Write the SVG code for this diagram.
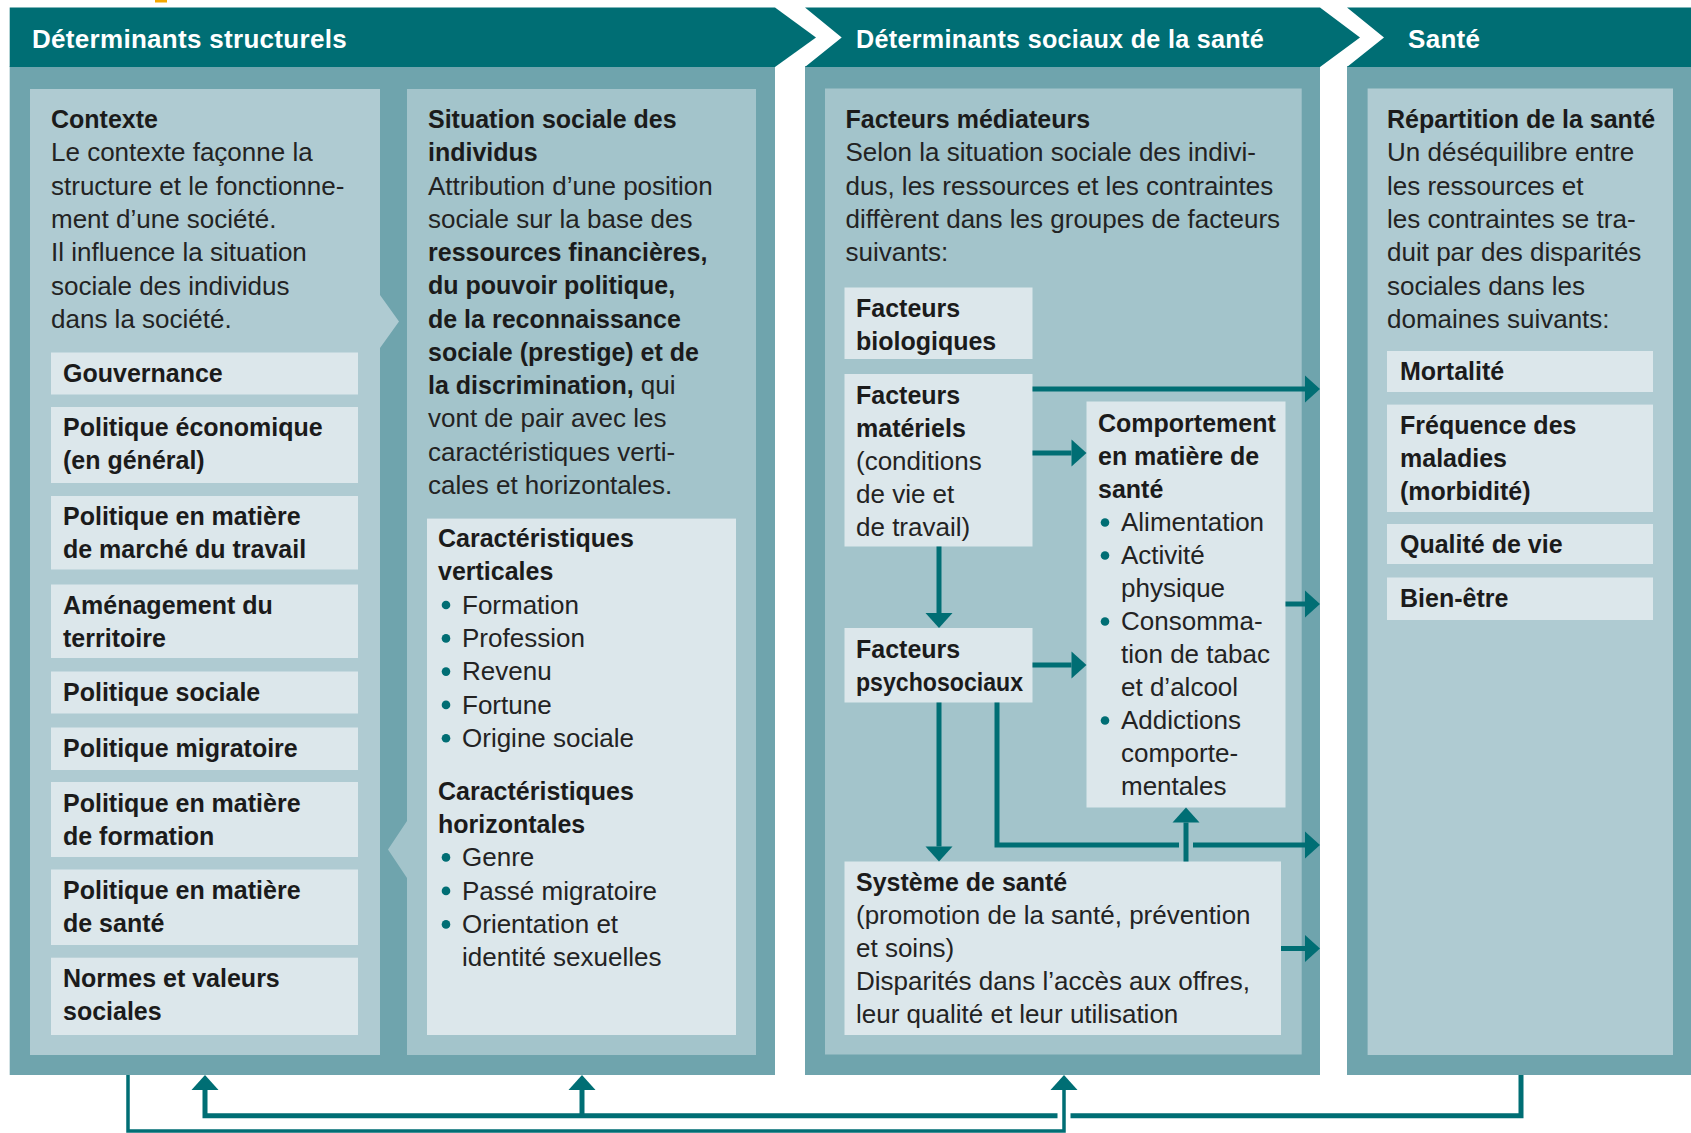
<svg xmlns="http://www.w3.org/2000/svg" width="1691" height="1133" viewBox="0 0 1691 1133">
<defs>
<style>
text{font-family:"Liberation Sans",Arial,sans-serif;fill:#232323}
.hd{font-size:26px;font-weight:bold;fill:#ffffff;letter-spacing:0.3px}
.b{font-size:25px;font-weight:bold;fill:#1b1b1b}
.r{font-size:26px}
.hdr{fill:#006e74}
.body{fill:#6fa4ad}
.pl{fill:#afcbd2}
.pm{fill:#a3c4cb}
.box{fill:#dce7eb}
.dot{fill:#006e74}
.ln{fill:none;stroke:#006e74;stroke-width:5}
.ln2{fill:none;stroke:#006e74;stroke-width:3.5}
</style>
<marker id="ah" markerUnits="userSpaceOnUse" markerWidth="16" markerHeight="27" refX="0" refY="13.5" orient="auto" overflow="visible">
<path d="M0,0 L15,13.5 L0,27 Z" fill="#006e74"/>
</marker>
</defs>
<rect x="0" y="0" width="1691" height="1133" fill="#ffffff"/>
<rect x="155" y="0" width="12" height="2.5" fill="#f5a800"/>

<!-- Section 1 -->
<g id="section-structurels">
<rect class="body" x="9.7" y="66" width="765.3" height="1009"/>
<polygon class="hdr" points="9.7,7.5 775,7.5 816,37.5 775,67 9.7,67"/>
<text class="hd" x="32" y="48">Déterminants structurels</text>
</g>

<g id="node-contexte">
<polygon class="pl" points="30,89 380,89 380,295 399,321.5 380,348 380,1055 30,1055"/>
<text class="b" x="51" y="128">Contexte</text>
<text class="r" x="51" y="161.3">Le contexte façonne la</text>
<text class="r" x="51" y="194.6">structure et le fonctionne-</text>
<text class="r" x="51" y="228">ment d’une société.</text>
<text class="r" x="51" y="261.2">Il influence la situation</text>
<text class="r" x="51" y="294.5">sociale des individus</text>
<text class="r" x="51" y="327.8">dans la société.</text>
</g>
<g id="node-gouvernance"><rect class="box" x="51" y="352.5" width="307" height="42"/><text class="b" x="63" y="382">Gouvernance</text></g>
<g id="node-pol-eco"><rect class="box" x="51" y="407" width="307" height="76"/><text class="b" x="63" y="436">Politique économique</text><text class="b" x="63" y="469">(en général)</text></g>
<g id="node-pol-travail"><rect class="box" x="51" y="496" width="307" height="73.5"/><text class="b" x="63" y="525">Politique en matière</text><text class="b" x="63" y="558">de marché du travail</text></g>
<g id="node-amenagement"><rect class="box" x="51" y="584.5" width="307" height="73.5"/><text class="b" x="63" y="614">Aménagement du</text><text class="b" x="63" y="647">territoire</text></g>
<g id="node-pol-sociale"><rect class="box" x="51" y="671.5" width="307" height="42"/><text class="b" x="63" y="701">Politique sociale</text></g>
<g id="node-pol-migratoire"><rect class="box" x="51" y="727.5" width="307" height="42.5"/><text class="b" x="63" y="757">Politique migratoire</text></g>
<g id="node-pol-formation"><rect class="box" x="51" y="782" width="307" height="75"/><text class="b" x="63" y="811.5">Politique en matière</text><text class="b" x="63" y="844.5">de formation</text></g>
<g id="node-pol-sante"><rect class="box" x="51" y="869.5" width="307" height="75.5"/><text class="b" x="63" y="899">Politique en matière</text><text class="b" x="63" y="932">de santé</text></g>
<g id="node-normes"><rect class="box" x="51" y="957.7" width="307" height="77.3"/><text class="b" x="63" y="987">Normes et valeurs</text><text class="b" x="63" y="1020">sociales</text></g>

<g id="node-situation">
<polygon class="pm" points="407,89 756,89 756,1055 407,1055 407,878 388,849.5 407,821"/>
<text class="b" x="428" y="128">Situation sociale des</text>
<text class="b" x="428" y="161.3">individus</text>
<text class="r" x="428" y="194.5">Attribution d’une position</text>
<text class="r" x="428" y="227.8">sociale sur la base des</text>
<text class="b" x="428" y="261.1">ressources financières,</text>
<text class="b" x="428" y="294.4">du pouvoir politique,</text>
<text class="b" x="428" y="327.6">de la reconnaissance</text>
<text class="b" x="428" y="360.9">sociale (prestige) et de</text>
<text x="428" y="394.2"><tspan class="b">la discrimination,</tspan><tspan class="r"> qui</tspan></text>
<text class="r" x="428" y="427.4">vont de pair avec les</text>
<text class="r" x="428" y="460.7">caractéristiques verti-</text>
<text class="r" x="428" y="494">cales et horizontales.</text>
</g>
<g id="node-caracteristiques">
<rect class="box" x="427" y="518.6" width="309" height="516.4"/>
<text class="b" x="438" y="547">Caractéristiques</text>
<text class="b" x="438" y="580.3">verticales</text>
<circle class="dot" cx="446" cy="605" r="4.3"/><text class="r" x="462" y="613.6">Formation</text>
<circle class="dot" cx="446" cy="638.4" r="4.3"/><text class="r" x="462" y="647">Profession</text>
<circle class="dot" cx="446" cy="671.6" r="4.3"/><text class="r" x="462" y="680.2">Revenu</text>
<circle class="dot" cx="446" cy="704.9" r="4.3"/><text class="r" x="462" y="713.5">Fortune</text>
<circle class="dot" cx="446" cy="738.2" r="4.3"/><text class="r" x="462" y="746.8">Origine sociale</text>
<text class="b" x="438" y="800">Caractéristiques</text>
<text class="b" x="438" y="833">horizontales</text>
<circle class="dot" cx="446" cy="857.4" r="4.3"/><text class="r" x="462" y="866">Genre</text>
<circle class="dot" cx="446" cy="890.9" r="4.3"/><text class="r" x="462" y="899.5">Passé migratoire</text>
<circle class="dot" cx="446" cy="924.4" r="4.3"/><text class="r" x="462" y="933">Orientation et</text>
<text class="r" x="462" y="966">identité sexuelles</text>
</g>

<!-- Section 2 -->
<g id="section-sociaux">
<rect class="body" x="805" y="66" width="515" height="1009"/>
<polygon class="hdr" points="805,7.5 1320,7.5 1360,37.5 1320,67 805,67 841.7,37.5"/>
<text class="hd" x="856" y="48" textLength="408" lengthAdjust="spacingAndGlyphs">Déterminants sociaux de la santé</text>
</g>
<g id="node-mediateurs">
<rect class="pm" x="825" y="88.5" width="476.7" height="966"/>
<text class="b" x="845.5" y="128">Facteurs médiateurs</text>
<text class="r" x="845.5" y="161.3">Selon la situation sociale des indivi-</text>
<text class="r" x="845.5" y="194.6">dus, les ressources et les contraintes</text>
<text class="r" x="845.5" y="228">diffèrent dans les groupes de facteurs</text>
<text class="r" x="845.5" y="261.2">suivants:</text>
</g>
<g id="node-biologiques"><rect class="box" x="844.5" y="287.5" width="188" height="71.5"/><text class="b" x="856" y="317">Facteurs</text><text class="b" x="856" y="350">biologiques</text></g>
<g id="node-materiels"><rect class="box" x="844.5" y="374" width="188" height="172.5"/>
<text class="b" x="856" y="404">Facteurs</text><text class="b" x="856" y="437">matériels</text>
<text class="r" x="856" y="470">(conditions</text><text class="r" x="856" y="503">de vie et</text><text class="r" x="856" y="536">de travail)</text></g>
<g id="node-psychosociaux"><rect class="box" x="844.5" y="628" width="188" height="74.5"/><text class="b" x="856" y="658">Facteurs</text><text class="b" x="856" y="691" textLength="167" lengthAdjust="spacingAndGlyphs">psychosociaux</text></g>
<g id="node-comportement"><rect class="box" x="1086.5" y="401.5" width="199" height="406"/>
<text class="b" x="1098" y="432">Comportement</text>
<text class="b" x="1098" y="465">en matière de</text>
<text class="b" x="1098" y="498">santé</text>
<circle class="dot" cx="1105" cy="522.5" r="4.3"/><text class="r" x="1121" y="531">Alimentation</text>
<circle class="dot" cx="1105" cy="555.5" r="4.3"/><text class="r" x="1121" y="564">Activité</text>
<text class="r" x="1121" y="597">physique</text>
<circle class="dot" cx="1105" cy="621.5" r="4.3"/><text class="r" x="1121" y="630">Consomma-</text>
<text class="r" x="1121" y="663">tion de tabac</text>
<text class="r" x="1121" y="696">et d’alcool</text>
<circle class="dot" cx="1105" cy="720.5" r="4.3"/><text class="r" x="1121" y="729">Addictions</text>
<text class="r" x="1121" y="762">comporte-</text>
<text class="r" x="1121" y="795">mentales</text></g>
<g id="node-systeme"><rect class="box" x="844.5" y="861.5" width="436.5" height="173.5"/>
<text class="b" x="856" y="891">Système de santé</text>
<text class="r" x="856" y="924">(promotion de la santé, prévention</text>
<text class="r" x="856" y="957">et soins)</text>
<text class="r" x="856" y="990">Disparités dans l’accès aux offres,</text>
<text class="r" x="856" y="1023">leur qualité et leur utilisation</text></g>

<!-- Section 3 -->
<g id="section-sante">
<rect class="body" x="1347" y="66" width="344" height="1009"/>
<polygon class="hdr" points="1347,7.5 1691,7.5 1691,67 1347,67 1384,37.5"/>
<text class="hd" x="1408" y="48">Santé</text>
</g>
<g id="node-repartition">
<rect class="pl" x="1367.6" y="88.5" width="305.4" height="966.5"/>
<text class="b" x="1387" y="128">Répartition de la santé</text>
<text class="r" x="1387" y="161.3">Un déséquilibre entre</text>
<text class="r" x="1387" y="194.6">les ressources et</text>
<text class="r" x="1387" y="228">les contraintes se tra-</text>
<text class="r" x="1387" y="261.2">duit par des disparités</text>
<text class="r" x="1387" y="294.5">sociales dans les</text>
<text class="r" x="1387" y="327.8">domaines suivants:</text>
</g>
<g id="node-mortalite"><rect class="box" x="1387" y="351" width="266" height="41"/><text class="b" x="1400" y="380">Mortalité</text></g>
<g id="node-frequence"><rect class="box" x="1387" y="404.6" width="266" height="107.4"/><text class="b" x="1400" y="434">Fréquence des</text><text class="b" x="1400" y="467">maladies</text><text class="b" x="1400" y="500">(morbidité)</text></g>
<g id="node-qualite"><rect class="box" x="1387" y="524" width="266" height="40"/><text class="b" x="1400" y="553">Qualité de vie</text></g>
<g id="node-bienetre"><rect class="box" x="1387" y="577.5" width="266" height="42.5"/><text class="b" x="1400" y="607">Bien-être</text></g>

<!-- Connectors -->
<g id="connectors">
<path class="ln" d="M1032.5,389 H1305" marker-end="url(#ah)"/>
<path class="ln" d="M1032.5,453 H1071.5" marker-end="url(#ah)"/>
<path class="ln" d="M939,546.5 V613" marker-end="url(#ah)"/>
<path class="ln" d="M1032.5,665 H1071.5" marker-end="url(#ah)"/>
<path class="ln" d="M939,702.5 V846.5" marker-end="url(#ah)"/>
<path class="ln" d="M997,702.5 V845 H1179"/>
<path class="ln" d="M1193,845 H1305" marker-end="url(#ah)"/>
<path class="ln" d="M1186,861.5 V822.5" marker-end="url(#ah)"/>
<path class="ln" d="M1285.5,604 H1305" marker-end="url(#ah)"/>
<path class="ln" d="M1281,948.5 H1305" marker-end="url(#ah)"/>
<path class="ln2" d="M128,1075 V1131 H1064 V1090" marker-end="url(#ah)"/>
<path class="ln" d="M1521,1075 V1115.7 H1070.5"/>
<path class="ln" d="M1057.5,1115.7 H205 V1090" marker-end="url(#ah)"/>
<path class="ln" d="M582,1115.7 V1090" marker-end="url(#ah)"/>
</g>
</svg>
